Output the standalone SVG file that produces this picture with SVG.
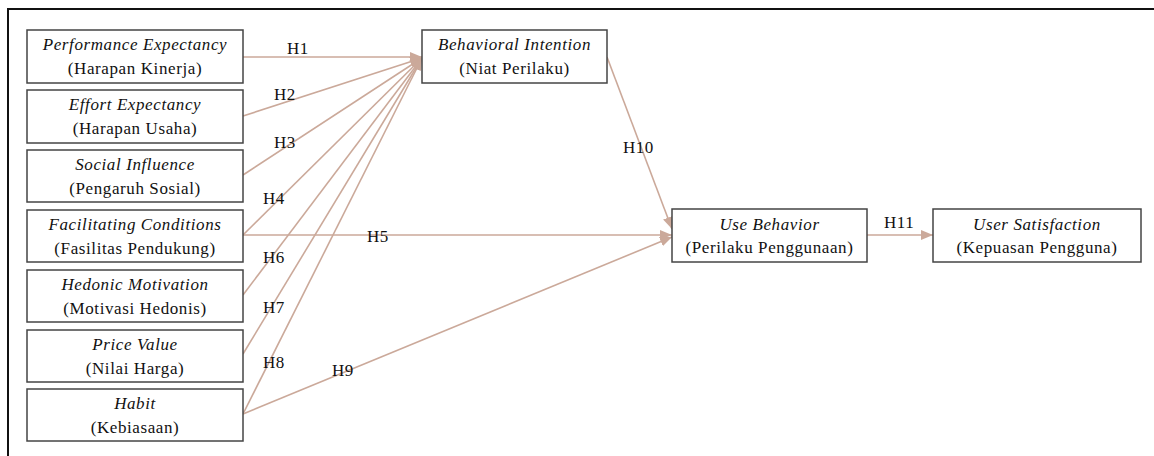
<svg xmlns="http://www.w3.org/2000/svg" width="1154" height="456" viewBox="0 0 1154 456">
<style>
.box{fill:#fff;stroke:#444;stroke-width:1.5}
.t{font-family:"Liberation Serif","Times New Roman",serif;font-size:17px;letter-spacing:0.6px;fill:#111;text-anchor:middle}
.i{font-style:italic}
.lbl{font-family:"Liberation Serif","Times New Roman",serif;font-size:17px;letter-spacing:0.5px;fill:#111}
.c{stroke:#cba99a;stroke-width:1.6;fill:none;marker-end:url(#ah)}
</style>
<defs>
<marker id="ah" viewBox="0 0 12 10" refX="12" refY="5" markerWidth="12" markerHeight="10" markerUnits="userSpaceOnUse" orient="auto">
<path d="M0,0 L12,5 L0,10 z" fill="#cba99a"/>
</marker>
</defs>
<rect width="1154" height="456" fill="#fff"/>
<path d="M8,456 L8,9 L1154,9" fill="none" stroke="#111" stroke-width="2"/>
<g id="connectors">
<line class="c" x1="243" y1="57" x2="422" y2="57"/>
<line class="c" x1="243" y1="116" x2="422" y2="58"/>
<line class="c" x1="243" y1="175" x2="422" y2="58"/>
<line class="c" x1="243" y1="235" x2="422" y2="58"/>
<line class="c" x1="243" y1="235" x2="672" y2="235"/>
<line class="c" x1="243" y1="295" x2="422" y2="58"/>
<line class="c" x1="243" y1="354" x2="422" y2="58"/>
<line class="c" x1="243" y1="414" x2="422" y2="58"/>
<line class="c" x1="243" y1="414" x2="672" y2="237"/>
<line class="c" x1="607" y1="57" x2="672" y2="229"/>
<line class="c" x1="867" y1="235" x2="933" y2="235"/>
</g>
<g id="labels">
<text class="lbl" x="287" y="54">H1</text>
<text class="lbl" x="274" y="100">H2</text>
<text class="lbl" x="274" y="148">H3</text>
<text class="lbl" x="263" y="204">H4</text>
<text class="lbl" x="367" y="242">H5</text>
<text class="lbl" x="263" y="263">H6</text>
<text class="lbl" x="263" y="313">H7</text>
<text class="lbl" x="263" y="368">H8</text>
<text class="lbl" x="332" y="376">H9</text>
<text class="lbl" x="623" y="153">H10</text>
<text class="lbl" x="884" y="228">H11</text>
</g>
<g id="pe"><rect class="box" x="27" y="30" width="216" height="53"/><text class="t i" x="135" y="50">Performance Expectancy</text><text class="t" x="135" y="74">(Harapan Kinerja)</text></g>
<g id="ee"><rect class="box" x="27" y="90" width="216" height="53"/><text class="t i" x="135" y="110">Effort Expectancy</text><text class="t" x="135" y="134">(Harapan Usaha)</text></g>
<g id="si"><rect class="box" x="27" y="150" width="216" height="52"/><text class="t i" x="135" y="170">Social Influence</text><text class="t" x="135" y="194">(Pengaruh Sosial)</text></g>
<g id="fc"><rect class="box" x="27" y="210" width="216" height="52"/><text class="t i" x="135" y="230">Facilitating Conditions</text><text class="t" x="135" y="254">(Fasilitas Pendukung)</text></g>
<g id="hm"><rect class="box" x="27" y="270" width="216" height="52"/><text class="t i" x="135" y="290">Hedonic Motivation</text><text class="t" x="135" y="314">(Motivasi Hedonis)</text></g>
<g id="pv"><rect class="box" x="27" y="330" width="216" height="52"/><text class="t i" x="135" y="350">Price Value</text><text class="t" x="135" y="374">(Nilai Harga)</text></g>
<g id="hb"><rect class="box" x="27" y="389" width="216" height="52"/><text class="t i" x="135" y="409">Habit</text><text class="t" x="135" y="433">(Kebiasaan)</text></g>
<g id="bi"><rect class="box" x="422" y="30" width="185" height="53"/><text class="t i" x="514.5" y="50">Behavioral Intention</text><text class="t" x="514.5" y="74">(Niat Perilaku)</text></g>
<g id="ub"><rect class="box" x="672" y="209" width="195" height="53"/><text class="t i" x="769.5" y="230">Use Behavior</text><text class="t" x="769.5" y="253">(Perilaku Penggunaan)</text></g>
<g id="us"><rect class="box" x="933" y="209" width="208" height="53"/><text class="t i" x="1037" y="230">User Satisfaction</text><text class="t" x="1037" y="253">(Kepuasan Pengguna)</text></g>
</svg>
